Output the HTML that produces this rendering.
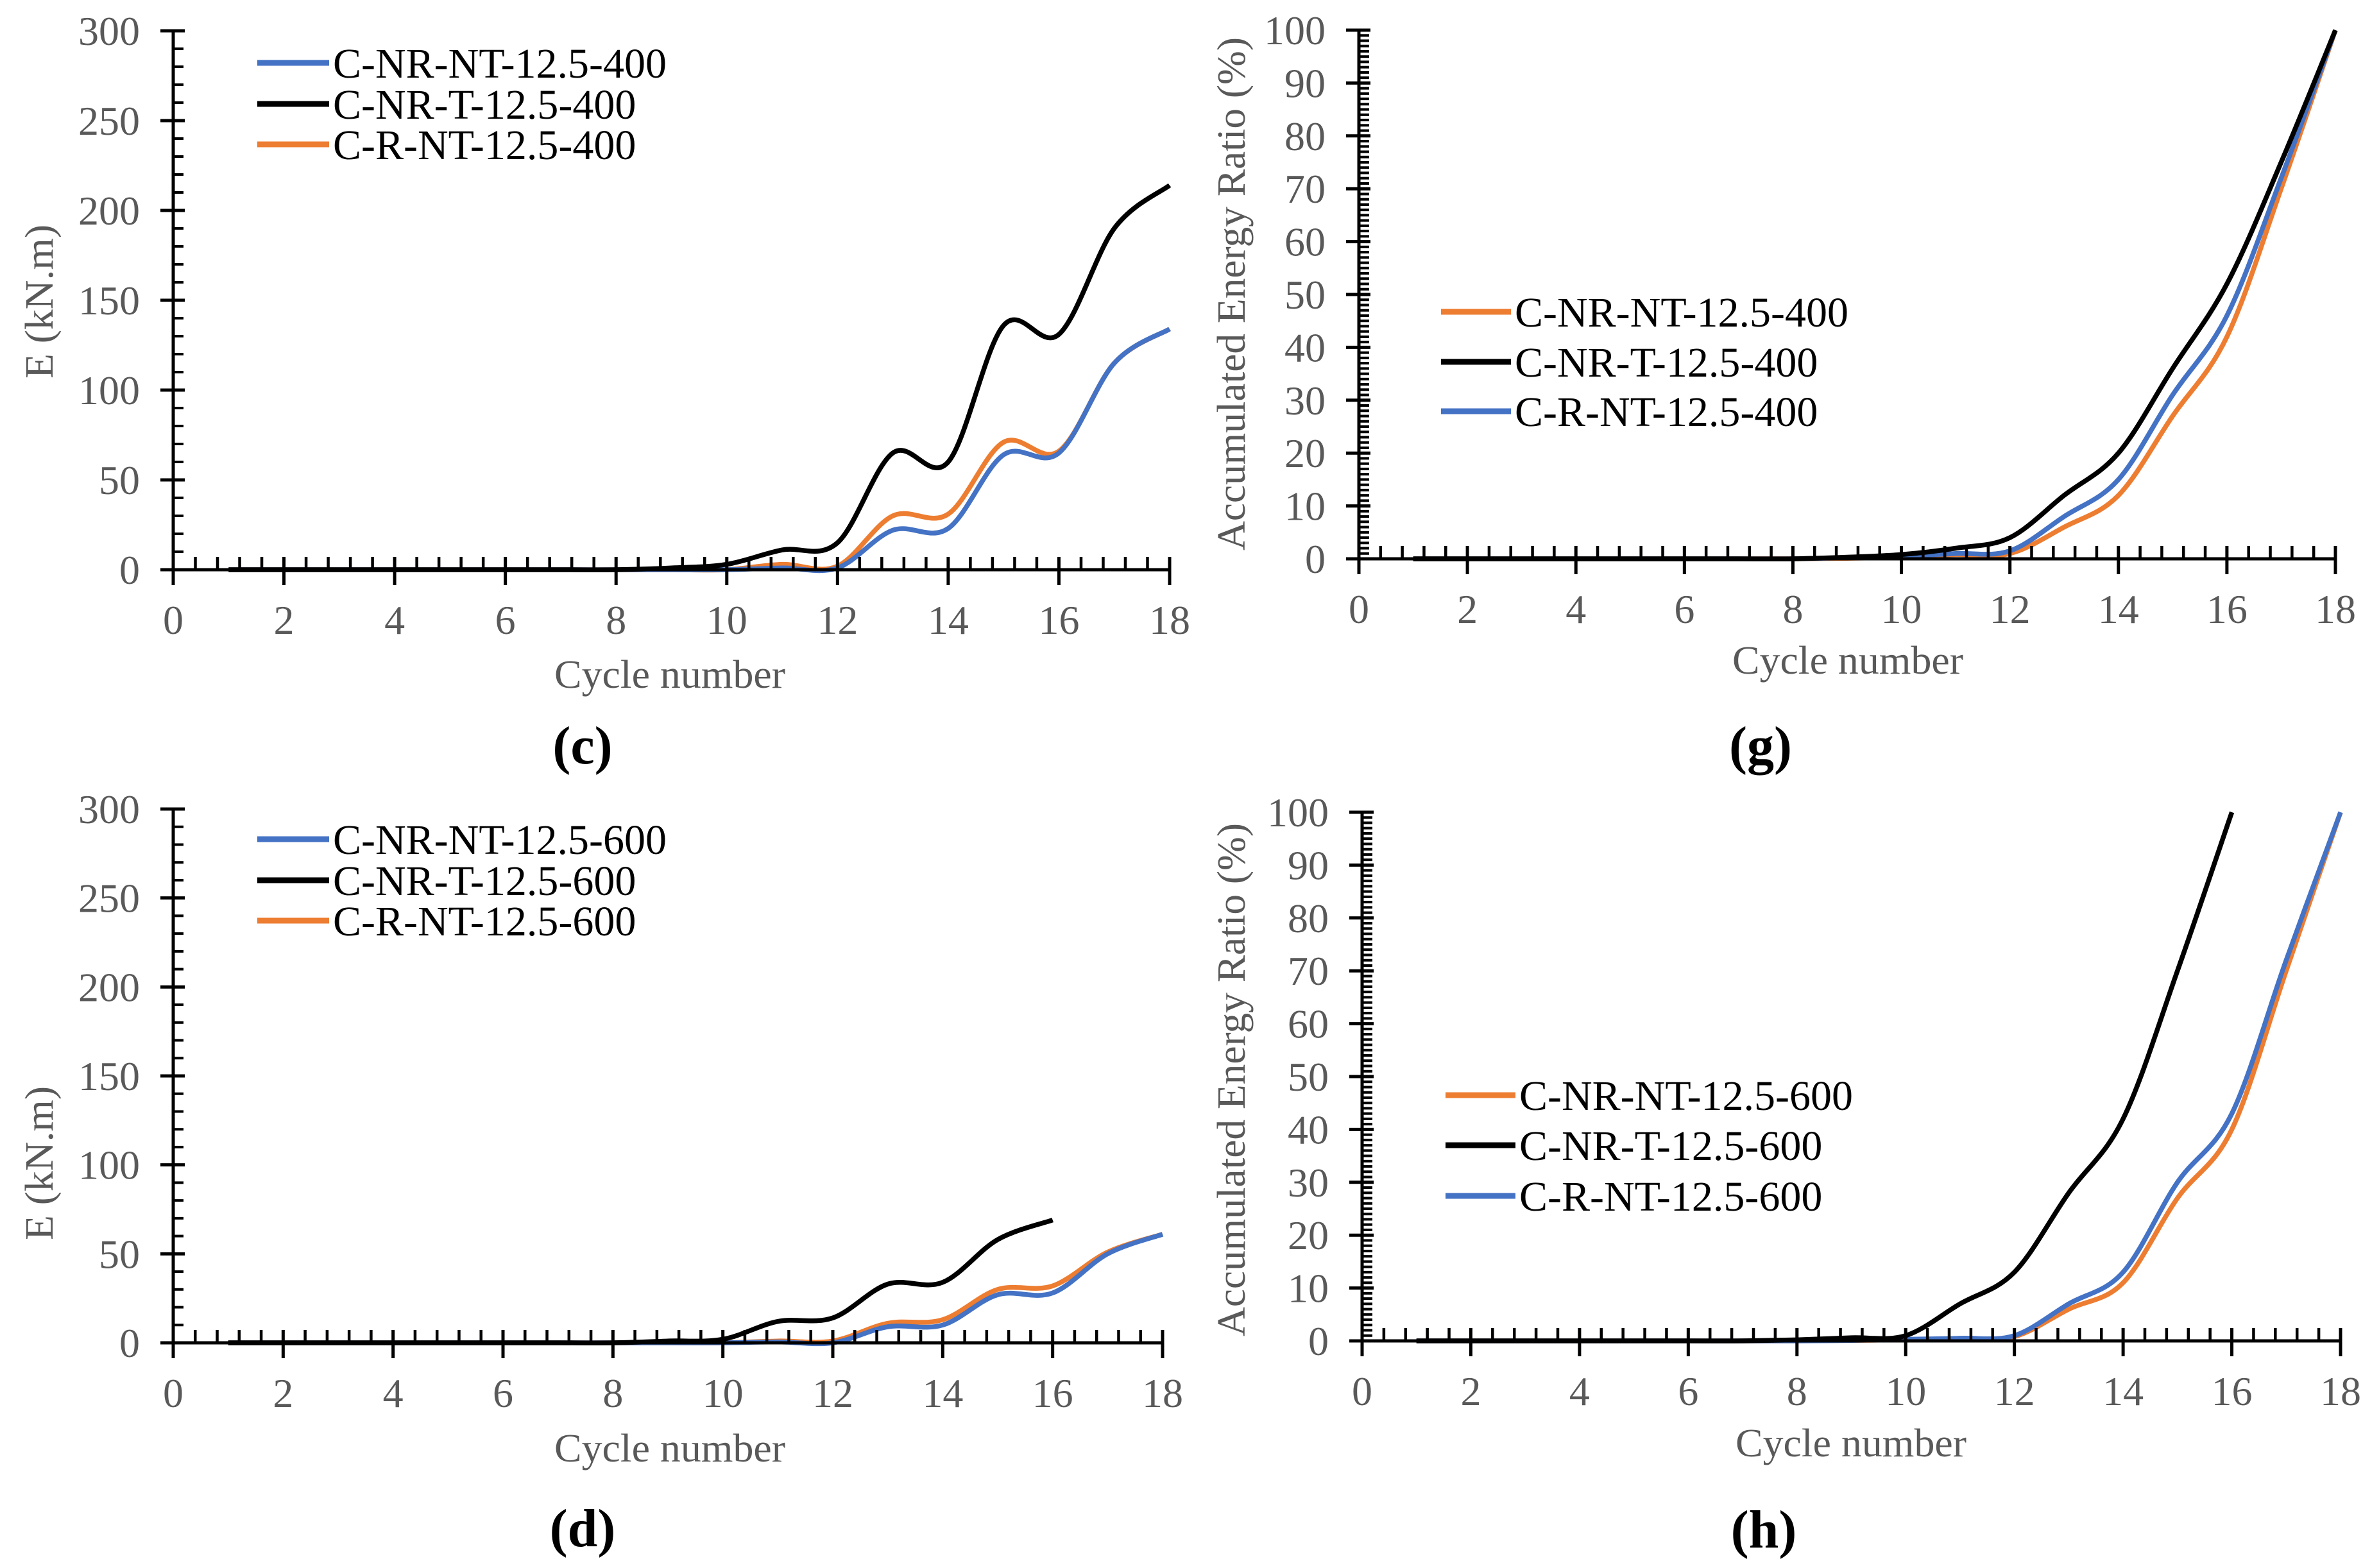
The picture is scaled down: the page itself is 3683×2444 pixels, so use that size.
<!DOCTYPE html>
<html><head><meta charset="utf-8">
<style>
html,body{margin:0;padding:0;background:#fff;}
svg{display:block;}
text{font-family:"Liberation Serif",serif;}
</style></head>
<body>
<svg id="chart" width="3683" height="2444" viewBox="0 0 3683 2444" xmlns="http://www.w3.org/2000/svg"></svg>
<script>
// ---- data ----
const cycles = [1,2,3,4,5,6,7,8,9,10,11,12,13,14,15,16,17,18];
const xTicks = [0,2,4,6,8,10,12,14,16,18];
const eTicks = [0,50,100,150,200,250,300];
const rTicks = [0,10,20,30,40,50,60,70,80,90,100];

const c_blue   = [0,0,0,0,0,0,0,0,0,0,1,1,22,23,64,65,115,134];
const c_black  = [0,0,0,0,0,0,0,0,1,3,11,15,65,60,136,131,190,214];
const c_orange = [0,0,0,0,0,0,0,0,0,0,3,2,30,31,71,66,115,134];

const d_blue   = [0,0,0,0,0,0,0,0,0,0,0.5,0,9,10,27,28,50,61];
const d_black  = [0,0,0,0,0,0,0,0,1,2,12,14,33,34,58,69];
const d_orange = [0,0,0,0,0,0,0,0,0,0,1,1,11,13,30,32,51,61];

const g_orange = [0,0,0,0,0,0,0,0,0.1,0.3,0.8,1,6,12,27,42,70,100];
const g_black  = [0,0,0,0,0,0,0,0,0.3,0.8,2,4,12,20,36,52,75,100];
const g_blue   = [0,0,0,0,0,0,0,0,0.2,0.5,1,1.5,8,15,31,46,72,100];

const h_orange = [0,0,0,0,0,0,0,0,0.1,0.2,0.3,0.8,6,11,27,40,70,100];
const h_black  = [0,0,0,0,0,0,0,0.2,0.6,1,7,13,28,42,70,100];
const h_blue   = [0,0,0,0,0,0,0,0,0.1,0.3,0.5,1,7,13,30,43,72,100];

const BLUE="#4472C4", ORANGE="#ED7D31", BLACK="#000000", GRAY="#595959";
const NS="http://www.w3.org/2000/svg";
const svg=document.getElementById('chart');

function mk(tag, attrs, parent){
  const e=document.createElementNS(NS,tag);
  for(const k in attrs) e.setAttribute(k,attrs[k]);
  (parent||svg).appendChild(e);
  return e;
}

function smoothPath(pts){
  let d="M"+pts[0][0].toFixed(1)+","+pts[0][1].toFixed(1);
  for(let i=0;i<pts.length-1;i++){
    const p0=pts[i-1]||pts[i], p1=pts[i], p2=pts[i+1], p3=pts[i+2]||p2;
    const c1x=p1[0]+(p2[0]-p0[0])/6, c1y=p1[1]+(p2[1]-p0[1])/6;
    const c2x=p2[0]-(p3[0]-p1[0])/6, c2y=p2[1]-(p3[1]-p1[1])/6;
    d+=" C"+c1x.toFixed(1)+","+c1y.toFixed(1)+" "+c2x.toFixed(1)+","+c2y.toFixed(1)+" "+p2[0].toFixed(1)+","+p2[1].toFixed(1);
  }
  return d;
}

function panel(p){
  const g=mk('g',{});
  
  
  const xs=v=>p.X0+(p.X1-p.X0)*v/18;
  const ys=v=>p.YB-(p.YB-p.YT)*v/p.ymax;
  p.series.forEach(s=>{
    const pts=s.vals.map((v,i)=>[xs(cycles[i]),ys(v)]);
    const path=mk('path',{d:smoothPath(pts),fill:'none',stroke:s.color,'stroke-width':7.5,'stroke-linejoin':'round'},g);
    
    
  });
  const ax=mk('line',{x1:p.X0,y1:p.YB,x2:p.X1,y2:p.YB,stroke:'#000','stroke-width':5},g);
  
  
  const ay=mk('line',{x1:p.X0,y1:p.YT,x2:p.X0,y2:p.YB,stroke:'#000','stroke-width':5},g);
  
  
  for(let k=1;k<45;k++){ if(k%5===0) continue; const x=xs(k*0.4);
    mk('line',{x1:x,y1:p.YB,x2:x,y2:p.YB-20,stroke:'#000','stroke-width':4.5},g); }
  xTicks.forEach(t=>{
    const x=xs(t);
    mk('line',{x1:x,y1:p.YB-20,x2:x,y2:p.YB+24,stroke:'#000','stroke-width':5},g);
    const tx=mk('text',{x:x,y:p.YB+100,'font-size':64,fill:GRAY,'text-anchor':'middle'},g);
    
    
    tx.textContent=t;
  });
  for(let v=p.minor; v<p.ymax; v+=p.minor){ if(Math.abs(v/p.major-Math.round(v/p.major))<1e-6) continue;
    const y=ys(v); mk('line',{x1:p.X0,y1:y,x2:p.X0+16,y2:y,stroke:'#000','stroke-width':4},g); }
  p.ticks.forEach(t=>{
    const y=ys(t);
    mk('line',{x1:p.X0-20,y1:y,x2:p.X0+18,y2:y,stroke:'#000','stroke-width':5},g);
    const ty=mk('text',{x:p.X0-52,y:y+22,'font-size':64,fill:GRAY,'text-anchor':'end'},g);
    
    
    ty.textContent=t;
  });
  const xt=mk('text',{x:p.xtX,y:p.xtY,'font-size':62,fill:GRAY,'text-anchor':'middle',textLength:360,lengthAdjust:'spacingAndGlyphs'},g);
  
  
  xt.textContent='Cycle number';
  const yt=mk('text',{x:0,y:0,'font-size':62,fill:GRAY,'text-anchor':'middle',
    transform:'translate('+p.ytX+','+p.ytY+') rotate(-90)',textLength:p.ytLen,lengthAdjust:'spacingAndGlyphs'},g);
  
  
  yt.textContent=p.ytitle;
  const lab=mk('text',{x:p.labX,y:p.labY,'font-size':84,'font-weight':'bold',fill:'#000','text-anchor':'middle'},g);
  
  
  lab.textContent=p.label;
  p.legend.forEach((l,i)=>{
    const y=p.legY[i];
    const ln=mk('line',{x1:p.legX1,y1:y,x2:p.legX2,y2:y,stroke:l.color,'stroke-width':9},g);
    
    
    const lt=mk('text',{x:p.legX2+6,y:y+23,'font-size':66,fill:'#000'},g);
    
    
    lt.textContent=l.text;
  });
}

panel({name:'panel-c',X0:270,X1:1823,YT:48,YB:888,ymax:300,major:50,minor:10,ticks:eTicks,
  series:[{id:'c-r-nt',vals:c_orange,color:ORANGE},{id:'c-nr-nt',vals:c_blue,color:BLUE},{id:'c-nr-t',vals:c_black,color:BLACK}],
  xtX:1044,xtY:1072,ytX:82,ytY:470,ytLen:240,ytitle:'E (kN.m)',labX:908,labY:1190,label:'(c)',
  legX1:401,legX2:513,legY:[98,162,225],
  legend:[{text:'C-NR-NT-12.5-400',color:BLUE},{text:'C-NR-T-12.5-400',color:BLACK},{text:'C-R-NT-12.5-400',color:ORANGE}]});

panel({name:'panel-d',X0:270,X1:1812,YT:1261,YB:2093,ymax:300,major:50,minor:10,ticks:eTicks,
  series:[{id:'d-r-nt',vals:d_orange,color:ORANGE},{id:'d-nr-nt',vals:d_blue,color:BLUE},{id:'d-nr-t',vals:d_black,color:BLACK}],
  xtX:1044,xtY:2278,ytX:82,ytY:1813,ytLen:240,ytitle:'E (kN.m)',labX:908,labY:2410,label:'(d)',
  legX1:401,legX2:513,legY:[1308,1372,1435],
  legend:[{text:'C-NR-NT-12.5-600',color:BLUE},{text:'C-NR-T-12.5-600',color:BLACK},{text:'C-R-NT-12.5-600',color:ORANGE}]});

panel({name:'panel-g',X0:2118,X1:3640,YT:47,YB:871,ymax:100,major:10,minor:1,ticks:rTicks,
  series:[{id:'g-nr-nt',vals:g_orange,color:ORANGE},{id:'g-r-nt',vals:g_blue,color:BLUE},{id:'g-nr-t',vals:g_black,color:BLACK}],
  xtX:2880,xtY:1050,ytX:1940,ytY:458,ytLen:800,ytitle:'Accumulated Energy Ratio (%)',labX:2744,labY:1190,label:'(g)',
  legX1:2246,legX2:2355,legY:[486,564,641],
  legend:[{text:'C-NR-NT-12.5-400',color:ORANGE},{text:'C-NR-T-12.5-400',color:BLACK},{text:'C-R-NT-12.5-400',color:BLUE}]});

panel({name:'panel-h',X0:2123,X1:3648,YT:1266,YB:2090,ymax:100,major:10,minor:1,ticks:rTicks,
  series:[{id:'h-nr-nt',vals:h_orange,color:ORANGE},{id:'h-r-nt',vals:h_blue,color:BLUE},{id:'h-nr-t',vals:h_black,color:BLACK}],
  xtX:2885,xtY:2270,ytX:1940,ytY:1683,ytLen:800,ytitle:'Accumulated Energy Ratio (%)',labX:2749,labY:2412,label:'(h)',
  legX1:2253,legX2:2362,legY:[1707,1785,1864],
  legend:[{text:'C-NR-NT-12.5-600',color:ORANGE},{text:'C-NR-T-12.5-600',color:BLACK},{text:'C-R-NT-12.5-600',color:BLUE}]});
</script>
</body></html>
